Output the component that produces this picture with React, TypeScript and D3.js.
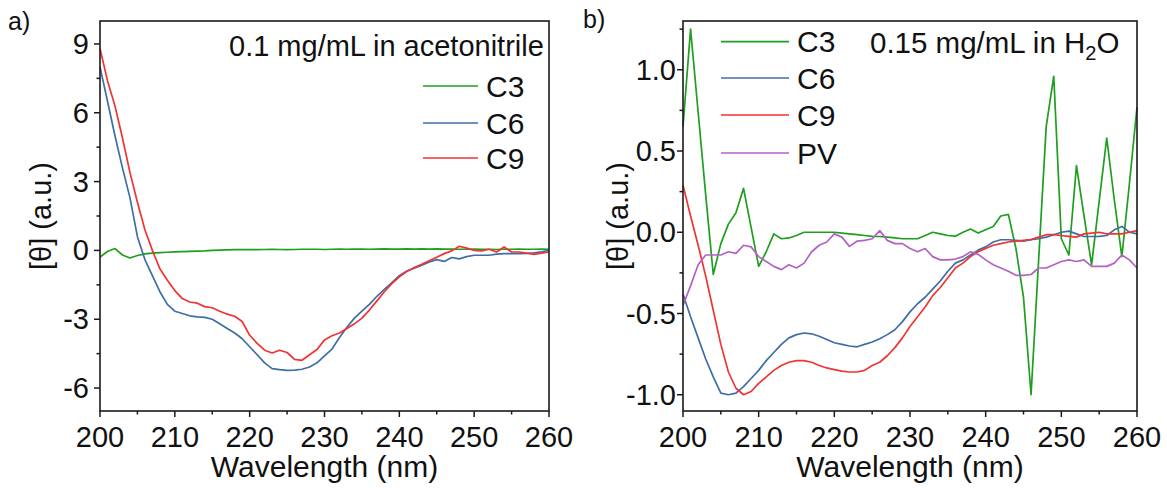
import React from "react";
import * as d3 from "d3";

const wavelengths = d3.range(200, 261, 1);

// Panel a: 0.1 mg/mL in acetonitrile
const aC3 = [-0.29, -0.05, 0.08, -0.2, -0.33, -0.22, -0.15, -0.12, -0.1, -0.08, -0.06, -0.05, -0.04, -0.03, -0.02, 0.0, 0.01, 0.02, 0.03, 0.03, 0.04, 0.03, 0.04, 0.05, 0.04, 0.03, 0.04, 0.05, 0.05, 0.05, 0.04, 0.05, 0.06, 0.05, 0.06, 0.06, 0.05, 0.06, 0.07, 0.06, 0.06, 0.07, 0.06, 0.07, 0.06, 0.07, 0.06, 0.06, 0.05, 0.05, 0.06, 0.05, 0.05, 0.04, 0.05, 0.05, 0.06, 0.05, 0.05, 0.06, 0.05];
const aC6 = [8.0, 6.5, 5.0, 3.6, 2.3, 0.6, -0.4, -1.1, -1.8, -2.35, -2.65, -2.75, -2.85, -2.9, -2.92, -3.0, -3.2, -3.4, -3.6, -3.85, -4.2, -4.55, -4.9, -5.15, -5.2, -5.23, -5.22, -5.18, -5.08, -4.9, -4.6, -4.3, -3.8, -3.35, -2.95, -2.65, -2.35, -2.0, -1.7, -1.4, -1.1, -0.9, -0.78, -0.65, -0.5, -0.4, -0.48, -0.31, -0.37, -0.27, -0.21, -0.21, -0.21, -0.16, -0.14, -0.14, -0.14, -0.13, -0.11, -0.06, 0.0];
const aC9 = [8.8, 7.4, 6.3, 4.9, 3.4, 2.1, 0.9, 0.0, -0.8, -1.3, -1.75, -2.1, -2.25, -2.3, -2.45, -2.5, -2.65, -2.78, -2.87, -3.1, -3.7, -4.05, -4.35, -4.47, -4.35, -4.45, -4.75, -4.79, -4.55, -4.32, -3.9, -3.72, -3.6, -3.4, -3.2, -2.95, -2.6, -2.2, -1.8, -1.45, -1.15, -0.92, -0.75, -0.6, -0.45, -0.3, -0.14, -0.02, 0.18, 0.1, 0.0, -0.02, 0.05, -0.07, 0.15, -0.07, -0.07, -0.12, -0.17, -0.12, -0.07];

// Panel b: 0.15 mg/mL in H2O
const bC3 = [0.65, 1.25, 0.74, 0.23, -0.26, -0.07, 0.05, 0.12, 0.27, 0.03, -0.21, -0.12, -0.01, -0.04, -0.035, -0.02, 0.0, 0.0, 0.0, 0.0, 0.0, -0.005, -0.01, -0.015, -0.02, -0.025, -0.026, -0.03, -0.035, -0.04, -0.04, -0.04, -0.02, 0.0, -0.01, -0.02, -0.024, 0.0, 0.02, -0.005, 0.015, 0.036, 0.1, 0.11, -0.1, -0.4, -1.0, -0.17, 0.65, 0.96, -0.04, -0.14, 0.41, 0.1, -0.2, 0.19, 0.58, 0.2, -0.15, 0.3, 0.77];
const bC6 = [-0.38, -0.52, -0.65, -0.78, -0.89, -0.99, -1.0, -0.99, -0.95, -0.9, -0.85, -0.79, -0.74, -0.69, -0.65, -0.63, -0.62, -0.625, -0.64, -0.66, -0.68, -0.69, -0.7, -0.705, -0.69, -0.675, -0.655, -0.63, -0.6, -0.55, -0.49, -0.44, -0.4, -0.35, -0.3, -0.24, -0.19, -0.17, -0.14, -0.11, -0.09, -0.06, -0.046, -0.046, -0.05, -0.055, -0.045, -0.04, -0.03, -0.015, 0.0, 0.007, -0.01, -0.026, -0.026, -0.025, -0.02, 0.015, 0.036, 0.0, -0.01];
const bC9 = [0.29, 0.1, -0.08, -0.27, -0.48, -0.69, -0.86, -0.96, -1.0, -0.98, -0.93, -0.89, -0.85, -0.82, -0.8, -0.79, -0.79, -0.8, -0.82, -0.835, -0.845, -0.855, -0.86, -0.86, -0.85, -0.82, -0.8, -0.76, -0.71, -0.65, -0.58, -0.52, -0.46, -0.39, -0.34, -0.28, -0.22, -0.19, -0.15, -0.12, -0.1, -0.08, -0.07, -0.06, -0.055, -0.05, -0.045, -0.03, -0.015, -0.015, -0.02, -0.025, -0.03, -0.01, -0.005, 0.0, -0.01, -0.01, -0.01, 0.0, 0.01];
const bPV = [-0.45, -0.33, -0.2, -0.14, -0.14, -0.14, -0.12, -0.13, -0.08, -0.09, -0.15, -0.18, -0.21, -0.23, -0.2, -0.22, -0.19, -0.12, -0.08, -0.06, -0.01, -0.03, -0.087, -0.055, -0.05, -0.04, 0.01, -0.05, -0.07, -0.07, -0.1, -0.12, -0.1, -0.15, -0.17, -0.17, -0.165, -0.15, -0.12, -0.136, -0.17, -0.2, -0.22, -0.24, -0.265, -0.265, -0.26, -0.22, -0.22, -0.2, -0.18, -0.17, -0.18, -0.17, -0.21, -0.21, -0.21, -0.19, -0.14, -0.17, -0.22];

const xTicks = [200, 210, 220, 230, 240, 250, 260];
const xMinor = [205, 215, 225, 235, 245, 255];
const aYTicks = [9, 6, 3, 0, -3, -6];
const aYMinor = [7.5, 4.5, 1.5, -1.5, -4.5];
const bYTicks = [1.0, 0.5, 0.0, -0.5, -1.0];
const bYMinor = [1.25, 0.75, 0.25, -0.25, -0.75];

const COLORS = { C3: "#1f9e1f", C6: "#3d6fa6", C9: "#f03333", PV: "#b461c6" };
const FONT = "'Liberation Sans', Arial, sans-serif";
const AX = "#1a1a1a";

type Series = { name: string; values: number[]; color: string };

function Panel(props: {
  left: number; right: number; top: number; bottom: number;
  yDomain: [number, number]; yTicks: number[]; yMinor: number[];
  yFmt: (v: number) => string; labelEnd: number; yTitleX: number;
  series: Series[]; legendX1: number; legendX2: number; legendYs: number[];
  children?: React.ReactNode;
}) {
  const x = d3.scaleLinear().domain([200, 260]).range([props.left, props.right]);
  const y = d3.scaleLinear().domain(props.yDomain).range([props.bottom, props.top]);
  const line = d3.line<number>().x((_, i) => x(wavelengths[i])).y((d) => y(d));
  const cy = (props.top + props.bottom) / 2;
  return (
    <g>
      {props.series.map((s) => (
        <path key={s.name} d={line(s.values) || ""} fill="none" stroke={s.color} strokeWidth={1.7} strokeLinejoin="round" />
      ))}
      <rect x={props.left} y={props.top} width={props.right - props.left} height={props.bottom - props.top} fill="none" stroke={AX} strokeWidth={1.6} />
      {xTicks.map((t) => (
        <g key={t}>
          <line x1={x(t)} x2={x(t)} y1={props.bottom} y2={props.bottom + 6} stroke={AX} strokeWidth={1.5} />
          <text x={x(t)} y={447} textAnchor="middle" fontSize={29} fontFamily={FONT} fill="#111">{t}</text>
        </g>
      ))}
      {xMinor.map((t) => (
        <line key={t} x1={x(t)} x2={x(t)} y1={props.bottom} y2={props.bottom + 3.5} stroke={AX} strokeWidth={1.5} />
      ))}
      {props.yTicks.map((t) => (
        <g key={t}>
          <line x1={props.left - 6} x2={props.left} y1={y(t)} y2={y(t)} stroke={AX} strokeWidth={1.5} />
          <text x={props.labelEnd} y={y(t) + 10} textAnchor="end" fontSize={29} fontFamily={FONT} fill="#111">{props.yFmt(t)}</text>
        </g>
      ))}
      {props.yMinor.map((t) => (
        <line key={t} x1={props.left - 3.5} x2={props.left} y1={y(t)} y2={y(t)} stroke={AX} strokeWidth={1.5} />
      ))}
      <text x={(props.left + props.right) / 2} y={477} textAnchor="middle" fontSize={30} fontFamily={FONT} fill="#111">Wavelength (nm)</text>
      <text transform={`translate(${props.yTitleX},${cy}) rotate(-90)`} textAnchor="middle" fontSize={29} fontFamily={FONT} fill="#111">[θ] (a.u.)</text>
      {props.series.map((s, i) => (
        <g key={s.name}>
          <line x1={props.legendX1} x2={props.legendX2} y1={props.legendYs[i]} y2={props.legendYs[i]} stroke={s.color} strokeWidth={1.7} />
          <text x={props.legendX2 + 8} y={props.legendYs[i] + 10.5} fontSize={30} fontFamily={FONT} fill="#111">{s.name}</text>
        </g>
      ))}
      {props.children}
    </g>
  );
}

export default function App() {
  return (
    <svg width={1167} height={488} style={{ position: "absolute", left: 0, top: 0, background: "#fff" }}>
      <rect width={1167} height={488} fill="#fff" />
      <text x={8} y={30} fontSize={25} fontFamily={FONT} fill="#111">a)</text>
      <text x={583} y={28} fontSize={25} fontFamily={FONT} fill="#111">b)</text>
      <Panel
        left={100} right={549} top={21} bottom={411}
        yDomain={[-7, 10]} yTicks={aYTicks} yMinor={aYMinor}
        yFmt={(v) => String(v)} labelEnd={89} yTitleX={51}
        series={[
          { name: "C3", values: aC3, color: COLORS.C3 },
          { name: "C6", values: aC6, color: COLORS.C6 },
          { name: "C9", values: aC9, color: COLORS.C9 },
        ]}
        legendX1={423} legendX2={478} legendYs={[86, 123, 158]}
      >
        <text x={229} y={56} fontSize={29} fontFamily={FONT} fill="#111">0.1 mg/mL in acetonitrile</text>
      </Panel>
      <Panel
        left={683} right={1137} top={21} bottom={411}
        yDomain={[-1.1, 1.3]} yTicks={bYTicks} yMinor={bYMinor}
        yFmt={(v) => v.toFixed(1)} labelEnd={676} yTitleX={628}
        series={[
          { name: "C3", values: bC3, color: COLORS.C3 },
          { name: "C6", values: bC6, color: COLORS.C6 },
          { name: "C9", values: bC9, color: COLORS.C9 },
          { name: "PV", values: bPV, color: COLORS.PV },
        ]}
        legendX1={721} legendX2={789} legendYs={[41.7, 78, 115, 153]}
      >
        <text x={870} y={53} fontSize={29.5} fontFamily={FONT} fill="#111">
          0.15 mg/mL in H<tspan fontSize={20} dy={7}>2</tspan><tspan dy={-7}>O</tspan>
        </text>
      </Panel>
    </svg>
  );
}
